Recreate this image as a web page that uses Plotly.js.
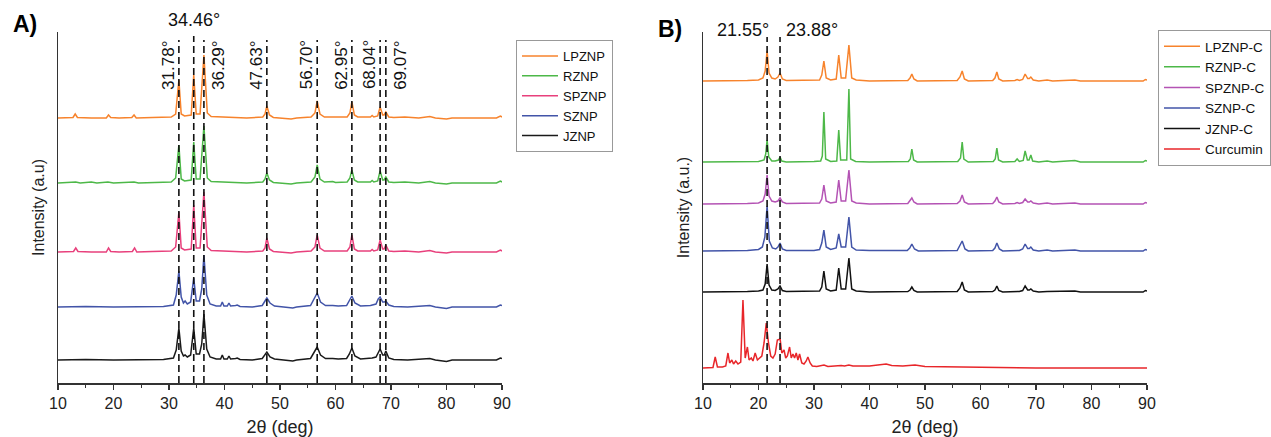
<!DOCTYPE html>
<html><head><meta charset="utf-8">
<script src="https://cdn.plot.ly/plotly-3.0.1.min.js"></script>
<style>html,body{margin:0;padding:0;background:#fff}#chart{width:1271px;height:437px}</style>
</head><body><div id="chart"></div>
<script>
// ---------------- DATA (2θ in deg, intensity in a.u. above each pattern's own baseline) ----------------
const peaksA = [31.78, 34.46, 36.29, 47.63, 56.70, 62.95, 68.04, 69.07];
const peaksB = [21.55, 23.88];

const namesA = ['LPZNP', 'RZNP', 'SPZNP', 'SZNP', 'JZNP'];
const namesB = ['LPZNP-C', 'RZNP-C', 'SPZNP-C', 'SZNP-C', 'JZNP-C', 'Curcumin'];

const LPZNP = [[10,0],[12.7,0.5],[13.1,4],[13.5,0.5],[16,0],[18.7,0],[19.1,3],[19.5,0.5],[21,0],[23.3,0.5],[23.7,3],[24.1,0],[27,0.5],[30.4,1],[31.2,4],[31.78,38],[32.2,4],[32.8,2],[34.0,3],[34.46,43],[34.9,4],[35.6,4],[36.29,63],[36.9,5],[37.6,1.5],[41,0.5],[44,0],[46.9,1],[47.3,4],[47.63,12],[48.1,3],[48.8,0.5],[52,-1],[53,0],[55.6,1],[56.3,5],[56.70,17],[57.2,4],[58,1],[62.1,1],[62.6,5],[62.95,16],[63.4,3],[64,1],[66.3,1],[66.6,2.5],[66.9,1],[67.6,2],[68.04,11],[68.5,3],[68.75,3],[69.07,6],[69.6,1],[70.5,0.5],[72.5,1],[75,0],[77,1.5],[78,0],[80,-1],[81,0],[89,0],[89.7,2],[90,1]];
const RZNP = [[10,0],[13.2,1],[14,0],[16,1],[17,0],[19,1],[20,0],[23.7,1],[24.5,0],[27,0.5],[30.4,1],[31.2,5],[31.78,38],[32.2,4],[32.8,2],[34.0,3],[34.46,41],[34.9,4],[35.6,4],[36.29,57],[36.9,5],[37.6,1.5],[41,0.5],[44,0],[46.9,1],[47.3,4],[47.63,10],[48.1,3],[48.8,0.5],[52,-1],[53,0],[55.6,1],[56.3,6],[56.70,18],[57.2,4],[58,1],[59.5,1.5],[60,0.5],[62.1,1],[62.6,5],[62.95,13],[63.4,3],[64,1],[66.3,1],[66.6,2.5],[66.9,1],[67.6,2],[68.04,12],[68.5,3],[68.75,3],[69.07,6],[69.6,1],[70.5,0.5],[72.5,1],[75,0],[77,1.5],[78,0],[80,-1],[81,0],[89,0],[89.7,2],[90,1]];
const SPZNP = [[10,0],[12.8,0.5],[13.2,4],[13.6,0.5],[16,0],[18.7,0],[19.1,4],[19.5,0.5],[21,0],[23.4,0.5],[23.8,4],[24.2,0],[27,0.5],[30.4,1],[31.2,5],[31.78,40],[32.2,4],[32.8,2],[34.0,3],[34.46,47],[34.9,4],[35.6,4],[36.29,60],[36.9,5],[37.6,1.5],[41,0.5],[44,0],[46.9,1],[47.3,4],[47.63,14],[48.1,3],[48.8,0.5],[52,-1],[53,0],[55.6,1],[56.3,5],[56.70,17],[57.2,4],[58,1],[62.1,1],[62.6,5],[62.95,17],[63.4,3],[64,1],[66.3,1],[66.6,2.5],[66.9,1],[67.6,2],[68.04,12],[68.5,3],[68.75,3],[69.07,7],[69.6,1],[70.5,0.5],[72.5,1],[75,0],[77,1.5],[78,0],[80,-1],[81,0],[89,0],[89.7,2],[90,1]];
const SZNP = [[10,0],[15,0.5],[20,0],[25,0.5],[29,0.5],[30.8,2],[31.3,12],[31.78,36],[32.2,10],[32.6,4],[32.9,6],[33.3,3],[33.9,5],[34.46,29],[34.9,6],[35.5,6],[35.9,18],[36.29,52],[36.8,12],[37.4,3],[38.5,1],[39.3,1],[39.6,5],[39.9,1],[40.5,1],[40.8,4],[41.1,1],[42.0,1.5],[42.3,2],[42.8,0.5],[45,0],[46.8,1.5],[47.3,6],[47.63,9],[48.2,4],[49,1],[52.3,-1],[53,0],[55.5,1.5],[56.2,8],[56.70,14],[57.3,5],[58.2,1.5],[59.5,1.5],[60.5,1],[62.0,1.5],[62.5,6],[62.95,11],[63.5,4],[64.5,1],[66.3,1.5],[66.6,2],[67.3,3],[67.7,8],[68.04,10],[68.5,5],[68.8,5],[69.07,6],[69.6,2],[70.5,0.5],[73,0],[77,1.5],[78,0],[80,-1.5],[81,0],[89,0],[89.7,2],[90,1.5]];
const JZNP = [[10,0],[15,0.5],[20,0],[25,0.5],[29,0.5],[30.8,2],[31.3,10],[31.78,32],[32.2,9],[32.6,4],[32.9,5],[33.3,3],[33.9,5],[34.46,32],[34.9,6],[35.5,6],[35.9,16],[36.29,46],[36.8,11],[37.4,3],[38.5,1],[39.3,1],[39.6,5],[39.9,1],[40.5,1],[40.8,4],[41.1,1],[42.0,1.5],[42.3,2],[42.8,0.5],[45,0],[46.8,1.5],[47.3,5],[47.63,8],[48.2,3],[49,1],[52.3,-1],[53,0],[55.5,1.5],[56.2,8],[56.70,13],[57.3,5],[58.2,1.5],[59.5,1.5],[60.5,1],[62.0,1.5],[62.5,6],[62.95,12],[63.5,4],[64.5,1],[66.3,1.5],[66.6,2],[67.3,3],[67.7,8],[68.04,11],[68.5,5],[68.8,5],[69.07,9],[69.6,2],[70.5,0.5],[73,0],[77,1.5],[78,0],[80,-1.5],[81,0],[89,0],[89.7,2],[90,1.5]];

const LPZNP_C = [[10,0],[15,0],[18,0.5],[20,1],[20.8,3],[21.2,10],[21.55,30],[21.9,8],[22.4,3],[23.0,2],[23.5,4],[23.88,8],[24.3,2],[25,0.5],[30,0.5],[31.0,1],[31.4,6],[31.78,20],[32.2,3],[33,1],[34.0,2],[34.46,26],[34.9,3],[35.7,3],[36.29,36],[36.8,3],[37.6,1],[40,0],[46.9,0.5],[47.3,3],[47.63,7],[48.0,2],[48.6,0],[55.8,0.5],[56.3,4],[56.70,10],[57.1,2],[57.8,0],[62.2,0.5],[62.6,3],[62.95,9],[63.3,2],[64,0],[66.2,0.5],[66.6,1.5],[67.0,0.5],[67.6,1.5],[68.04,7],[68.5,2.5],[68.8,2.5],[69.07,4],[69.5,1],[70.5,0],[72,1],[73,0],[77,1],[78,0],[89.3,0],[89.7,1.5],[90,1]];
const RZNP_C = [[10,0],[15,0],[18,0.5],[20,0.5],[21.0,2],[21.3,8],[21.55,22],[21.85,5],[22.4,1],[23.0,1],[23.6,2],[23.88,5],[24.2,1],[25,0],[30,0.5],[31.2,1],[31.5,6],[31.78,50],[32.1,3],[33,0.5],[34.1,1],[34.46,32],[34.8,2],[35.9,2],[36.29,73],[36.6,3],[37.5,0.5],[40,0],[47.0,0.5],[47.35,3],[47.63,13],[47.95,2],[48.6,0],[55.9,0.5],[56.4,4],[56.70,20],[57.0,3],[57.8,0],[62.3,0.5],[62.65,3],[62.95,14],[63.25,2],[64,0],[66.2,0.5],[66.6,3],[67.0,0.5],[67.7,1.5],[68.04,11],[68.45,2],[68.75,2],[69.07,7],[69.4,1],[70.5,0],[72,1],[73,0],[77,1.5],[78,0],[89.3,0],[89.7,1.5],[90,1]];
const SPZNP_C = [[10,0],[15,0],[18,0.5],[20,1],[20.8,3],[21.2,10],[21.55,29],[21.9,8],[22.4,3],[23.0,2],[23.5,3],[23.88,6],[24.3,2],[25,0.5],[30,0.5],[31.0,1],[31.4,5],[31.78,19],[32.2,3],[33,1],[34.0,2],[34.46,24],[34.9,3],[35.7,3],[36.29,34],[36.8,3],[37.6,1],[40,0],[46.9,0.5],[47.3,3],[47.63,6],[48.0,2],[48.6,0],[55.8,0.5],[56.3,3],[56.70,9],[57.1,2],[57.8,0],[62.2,0.5],[62.6,3],[62.95,7],[63.3,2],[64,0],[66.2,0.5],[66.6,1.5],[67.0,0.5],[67.6,1.5],[68.04,5],[68.5,2],[68.8,2],[69.07,3],[69.5,1],[70.5,0],[72,1],[73,0],[77,1],[78,0],[89.3,0],[89.7,1.5],[90,1]];
const SZNP_C = [[10,0],[15,0],[18,0.5],[20,1.5],[20.7,4],[21.15,14],[21.55,45],[21.95,10],[22.5,3],[23.1,2],[23.5,4],[23.88,8],[24.3,2],[25,0.5],[30,0.5],[31.0,1.5],[31.4,8],[31.78,21],[32.2,4],[33,1.5],[34.0,3],[34.46,17],[34.9,4],[35.7,4],[36.29,34],[36.8,4],[37.6,1],[40,0.5],[46.8,0.5],[47.25,3],[47.63,7],[48.1,2],[48.8,0],[55.8,0.5],[56.3,5],[56.70,10],[57.2,2],[57.8,0],[62.2,0.5],[62.6,3],[62.95,8],[63.4,2],[64,0],[66.2,0.5],[66.6,1],[67.0,0.5],[67.6,2],[68.04,7],[68.5,2.5],[68.8,2.5],[69.07,4],[69.5,1],[70.5,0],[72,1],[73,0],[77,1],[78,0],[89.3,0],[89.7,1.5],[90,1]];
const JZNP_C = [[10,0],[15,0],[18,0.5],[20,1],[20.8,2],[21.2,8],[21.55,28],[21.9,7],[22.4,2],[23.0,1.5],[23.5,3],[23.88,6],[24.3,1.5],[25,0.5],[30,0.5],[31.0,1],[31.4,5],[31.78,21],[32.2,3],[33,1],[34.0,2],[34.46,24],[34.9,3],[35.7,3],[36.29,34],[36.8,3],[37.6,1],[40,0],[46.9,0.5],[47.3,2],[47.63,5],[48.0,1.5],[48.6,0],[53,0.5],[55.8,0.5],[56.3,4],[56.70,10],[57.1,2],[57.8,0],[62.2,0.5],[62.6,2],[62.95,6],[63.3,1.5],[64,0],[66.2,0.5],[66.6,1],[67.0,0.5],[67.6,1.5],[68.04,6],[68.5,2],[68.8,2],[69.07,3],[69.5,1],[70.5,0],[72,0.5],[77,1],[78,0],[89.3,0],[89.7,1.5],[90,1]];
const CURCUMIN = [[10,0],[11.8,0.5],[12.2,11],[12.6,1],[13.5,1],[14.1,2],[14.5,15],[14.8,5],[15.2,8],[15.5,4],[15.9,7],[16.3,4],[16.8,6],[17.2,68],[17.6,10],[18.0,21],[18.3,8],[18.7,10],[19.0,7],[19.4,15],[19.8,8],[20.2,10],[20.6,12],[21.0,25],[21.4,45],[21.8,25],[22.2,12],[22.6,10],[23.0,14],[23.4,28],[23.9,29],[24.2,15],[24.6,18],[24.9,10],[25.2,12],[25.6,21],[25.9,10],[26.2,14],[26.5,10],[26.8,15],[27.1,8],[27.4,14],[27.8,5],[28.2,4],[28.6,7],[28.9,11],[29.3,5],[29.7,2],[30.5,1.5],[31.8,3],[32.5,1.5],[34.9,2.5],[35.5,2],[36.3,3],[37,2],[38.5,2],[40,2],[43,4],[44,2.5],[46,2],[48.2,3],[50,1.5],[55,1],[60,0.5],[70,0],[80,0],[90,0]];

const seriesA = [LPZNP, RZNP, SPZNP, SZNP, JZNP];
const seriesB = [LPZNP_C, RZNP_C, SPZNP_C, SZNP_C, JZNP_C, CURCUMIN];

// ---------------- LAYOUT / STYLE ----------------
const FONT = 'Liberation Sans, Arial, Helvetica, sans-serif';
const colorsA = ['#F7832C', '#4DB848', '#E8407C', '#4254A8', '#1a1a1a'];
const colorsB = ['#F7832C', '#4DB848', '#B453B4', '#4254A8', '#111111', '#E8262A'];
const stackA = [265, 200, 131, 76, 23];      // vertical display offsets
const stackB = [302, 221, 179, 132, 91, 15];
const labelSideA = [-1, 0, 1, -1, -1, -1, -1, 1]; // -1 left of line, 1 right, 0 horizontal on top

const W = 1271, H = 437, ML = 58, MR = 0, MT = 32, MB = 54;
const PW = W - ML - MR, PH = H - MT - MB;
const px2x = p => (p - ML) / PW;
const py2y = p => (H - MB - p) / PH;

const traces = [];
seriesA.forEach((s, i) => traces.push({
  type: 'scatter', mode: 'lines', name: namesA[i], xaxis: 'x', yaxis: 'y', legend: 'legend',
  x: s.map(p => p[0]), y: s.map(p => p[1] + stackA[i]),
  line: {color: colorsA[i], width: 1.5}, hoverinfo: 'skip'
}));
seriesB.forEach((s, i) => traces.push({
  type: 'scatter', mode: 'lines', name: namesB[i], xaxis: 'x2', yaxis: 'y2', legend: 'legend2',
  x: s.map(p => p[0]), y: s.map(p => p[1] + stackB[i]),
  line: {color: colorsB[i], width: 1.5}, hoverinfo: 'skip'
}));

const shapes = [];
const annotations = [];
const dashLine = {color: '#111', width: 1.6, dash: '7px,4px'};
peaksA.forEach((v, i) => {
  shapes.push({type: 'line', xref: 'x', yref: 'y', x0: v, x1: v, y0: 0, y1: labelSideA[i] === 0 ? 347 : 343, line: dashLine});
  const txt = v.toFixed(2) + '°';
  if (labelSideA[i] === 0) {
    annotations.push({xref: 'x', yref: 'paper', x: v, y: py2y(20), text: txt, showarrow: false,
      xanchor: 'center', yanchor: 'middle', font: {size: 18, color: '#111', family: FONT}});
  } else {
    annotations.push({xref: 'x', yref: 'paper', x: v, y: py2y(65), text: txt, showarrow: false, textangle: -90,
      xanchor: 'center', yanchor: 'middle', xshift: labelSideA[i] < 0 ? -11 : 14,
      font: {size: 17, color: '#111', family: FONT}});
  }
});
peaksB.forEach((v, i) => {
  shapes.push({type: 'line', xref: 'x2', yref: 'y2', x0: v, x1: v, y0: 0, y1: 346, line: dashLine});
  annotations.push({xref: 'x2', yref: 'paper', x: v, y: py2y(30), text: v.toFixed(2) + '°', showarrow: false,
    xanchor: i === 0 ? 'right' : 'left', yanchor: 'middle', xshift: 4,
    font: {size: 18, color: '#111', family: FONT}});
});
annotations.push({xref: 'paper', yref: 'paper', x: px2x(25), y: py2y(24), text: '<b>A)</b>', showarrow: false,
  xanchor: 'center', yanchor: 'middle', font: {size: 23, color: '#000', family: FONT}});
annotations.push({xref: 'paper', yref: 'paper', x: px2x(670), y: py2y(29), text: '<b>B)</b>', showarrow: false,
  xanchor: 'center', yanchor: 'middle', font: {size: 23, color: '#000', family: FONT}});

function xAxis(domain) {
  return {
    domain: domain, range: [10, 90], tick0: 10, dtick: 10, ticks: 'outside', ticklen: 5, tickwidth: 1.5,
    tickcolor: '#333', showline: true, linecolor: '#333', linewidth: 1.5, showgrid: false, zeroline: false,
    minor: {dtick: 5, tick0: 10, ticks: 'outside', ticklen: 3, tickwidth: 1.2, tickcolor: '#333', showgrid: false},
    tickfont: {size: 16, color: '#222', family: FONT}, automargin: false,
    title: {text: '2θ (deg)', font: {size: 18, color: '#222', family: FONT}, standoff: 12}
  };
}
function yAxis(anchor, title) {
  return {
    anchor: anchor, domain: [0, 1], range: [0, PH], showticklabels: false, ticks: '', showline: true,
    linecolor: '#333', linewidth: 1.5, showgrid: false, zeroline: false, automargin: false,
    title: {text: title, font: {size: 16, color: '#222', family: FONT}, standoff: 8}
  };
}
const legendBase = {xanchor: 'left', yanchor: 'top', bgcolor: '#fff', bordercolor: '#999', borderwidth: 1,
  itemwidth: 36, tracegroupgap: 0, traceorder: 'normal'};

const layout = {
  width: W, height: H, margin: {l: ML, r: MR, t: MT, b: MB}, paper_bgcolor: '#fff', plot_bgcolor: '#fff',
  font: {family: FONT, color: '#222'}, showlegend: true,
  xaxis: xAxis([0, px2x(502)]),
  xaxis2: xAxis([px2x(703), px2x(1147)]),
  yaxis: yAxis('x', 'Intensity (a.u)'),
  yaxis2: yAxis('x2', 'Intensity (a.u.)'),
  legend: Object.assign({}, legendBase, {x: px2x(516), y: py2y(40), font: {size: 13, color: '#111', family: FONT}}),
  legend2: Object.assign({}, legendBase, {x: px2x(1158), y: py2y(30), font: {size: 13.5, color: '#111', family: FONT}}),
  shapes: shapes, annotations: annotations
};
Plotly.newPlot('chart', traces, layout, {staticPlot: true, displayModeBar: false});
</script></body></html>
